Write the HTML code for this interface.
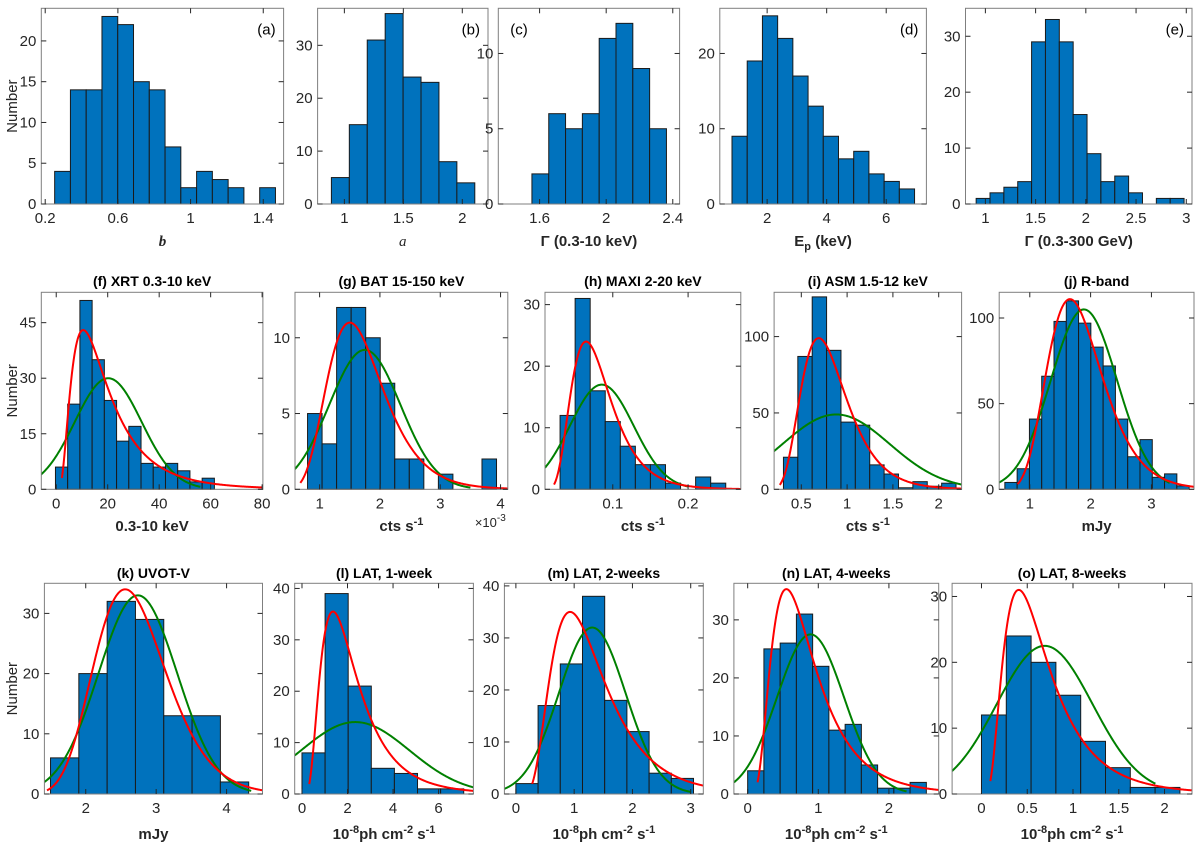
<!DOCTYPE html>
<html><head><meta charset="utf-8"><style>
body{margin:0;background:#fff}
svg{display:block;font-family:"Liberation Sans",sans-serif}
</style></head><body>
<svg id="fig" width="1200" height="847" viewBox="0 0 1200 847" xmlns="http://www.w3.org/2000/svg"></svg>
<script>
// ---- data (bin starts, bin widths, counts, fit parameters) ----
const countsA=[4,14,14,23,22,15,14,7,2,4,3,2,0,2]; const binA=[0.252,0.0868];
const countsB=[5,15,31,36,24,23,8,4]; const binB=[0.89,0.152];
const countsC=[2,6,5,6,11,12,9,5]; const binC=[1.554,0.101];
const countsD=[9,19,25,22,17,13,9,6,7,4,3,2]; const binD=[0.82,0.511];
const countsE=[1,2,3,4,29,33,29,16,9,4,5,2,0,1,1]; const binE=[0.908,0.138];
const countsF=[6,23,51,35,24,13,17,7,6,7,5,2,3]; const binF=[-0.3,4.75];
const countsG=[5,3,12,12,10,7,2,2,0,1,0,0,2]; const binG=[0.80,0.241];
const countsH=[12,31,16,11,7,4,4,1,0,2,1]; const binH=[0.030,0.020];
const countsI=[21,87,126,91,44,42,16,10,1,5,2,4]; const binI=[0.305,0.157];
const countsJ=[4,12,41,66,98,110,97,83,72,41,19,29,7,9,2]; const binJ=[0.59,0.202];
const countsK=[6,20,32,29,13,13,2]; const binK=[1.50,0.402];
const countsL=[8,39,21,5,4,1,1]; const binL=[0,1.015];
const countsM=[2,17,25,38,18,12,4,3]; const binM=[0,0.381];
const countsN=[4,25,26,31,22,11,12,5,1,1,2]; const binN=[0,0.23];
const countsO=[12,24,20,15,8,4,1,1]; const binO=[0,0.271];
// lognormal fits: [peak, mode, sigma, xstart, xend]
const redF=[43,10.5,0.68,2.2,80]; const greenF=[30,20.2,13,-6,56];
const redG=[11,1.5,0.31,0.68,4.12]; const greenG=[9.2,1.75,0.59,0.59,3.5];
const redH=[24,0.0645,0.41,0.022,0.27]; const greenH=[17,0.0854,0.0424,0.01,0.2];
const redI=[99,0.69,0.36,0.265,2.25]; const greenI=[49,0.88,0.584,0.2,2.25];
const redJ=[111,1.66,0.272,0.8,3.7]; const greenJ=[105,1.89,0.545,0.497,3.3];
const redK=[34,2.56,0.20,1.45,4.51]; const greenK=[33,2.74,0.56,1.413,4.35];
const redL=[35.5,1.36,0.60,0.32,7.53]; const greenL=[14,2.34,2.38,-0.32,7.53];
const redM=[35,0.93,0.50,0.28,3.216]; const greenM=[32,1.31,0.572,-0.197,3.0];
const redN=[35.3,0.548,0.57,0.14,2.705]; const greenN=[27.5,0.89,0.474,-0.195,2.25];
const redO=[31,0.407,0.61,0.097,2.3]; const greenO=[22.5,0.69,0.524,-0.321,1.9];

const NS="http://www.w3.org/2000/svg";
const svg=document.getElementById('fig');
function mk(tag,attrs,parent){const e=document.createElementNS(NS,tag);for(const k in attrs)e.setAttribute(k,attrs[k]);(parent||svg).appendChild(e);return e;}

const R1=[8.3,204],R2=[292.3,489.3],R3=[583.3,794];
const panels=[
{id:'a',box:[41.3,283.6],row:R1,xr:[0.1785,1.512],yr:24,xt:[0.2,0.6,1,1.4],yt:[0,5,10,15,20],counts:countsA,bin:binA,tag:'(a)',tagR:true,xl:'<tspan font-weight="bold" font-style="italic" font-family="Liberation Serif">b</tspan>',ylab:true},
{id:'b',box:[317.6,488],row:R1,xr:[0.773,2.218],yr:37,xt:[1,1.5,2],yt:[0,10,20,30],counts:countsB,bin:binB,tag:'(b)',tagR:true,xl:'<tspan font-style="italic" font-family="Liberation Serif">a</tspan>'},
{id:'c',box:[498.3,679.6],row:R1,xr:[1.352,2.441],yr:13,xt:[1.6,2,2.4],yt:[0,5,10],counts:countsC,bin:binC,tag:'(c)',tagR:false,xl:'<tspan font-weight="bold">Γ (0.3-10 keV)</tspan>'},
{id:'d',box:[719.8,926.4],row:R1,xr:[0.41,7.35],yr:26,xt:[2,4,6],yt:[0,10,20],counts:countsD,bin:binD,tag:'(d)',tagR:true,xl:'<tspan font-weight="bold">E</tspan><tspan font-weight="bold" font-size="11" dy="4">p</tspan><tspan font-weight="bold" dy="-4"> (keV)</tspan>'},
{id:'e',box:[965.5,1192],row:R1,xr:[0.802,3.057],yr:35,xt:[1,1.5,2,2.5,3],yt:[0,10,20,30],counts:countsE,bin:binE,tag:'(e)',tagR:true,xl:'<tspan font-weight="bold">Γ (0.3-300 GeV)</tspan>'},
{id:'f',box:[41.3,262.9],row:R2,xr:[-5.8,80.3],yr:53.2,xt:[0,20,40,60,80],yt:[0,15,30,45],counts:countsF,bin:binF,red:redF,green:greenF,title:'(f) XRT 0.3-10 keV',xl:'0.3-10 keV',ylab:true},
{id:'g',box:[295,507.8],row:R2,xr:[0.592,4.12],yr:13,xt:[1,2,3,4],yt:[0,5,10],counts:countsG,bin:binG,red:redG,green:greenG,title:'(g) BAT 15-150 keV',xl:'cts s<tspan font-size="11" dy="-6">-1</tspan>',exp:true},
{id:'h',box:[545,740.8],row:R2,xr:[0.010,0.270],yr:32,xt:[0.1,0.2],yt:[0,10,20,30],counts:countsH,bin:binH,red:redH,green:greenH,title:'(h) MAXI 2-20 keV',xl:'cts s<tspan font-size="11" dy="-6">-1</tspan>'},
{id:'i',box:[774.1,961.6],row:R2,xr:[0.203,2.25],yr:129,xt:[0.5,1,1.5,2],yt:[0,50,100],counts:countsI,bin:binI,red:redI,green:greenI,title:'(i) ASM 1.5-12 keV',xl:'cts s<tspan font-size="11" dy="-6">-1</tspan>'},
{id:'j',box:[999.2,1194],row:R2,xr:[0.497,3.70],yr:115,xt:[1,2,3],yt:[0,50,100],counts:countsJ,bin:binJ,red:redJ,green:greenJ,title:'(j) R-band',xl:'mJy'},
{id:'k',box:[44.4,262.5],row:R3,xr:[1.413,4.51],yr:35,xt:[2,3,4],yt:[0,10,20,30],counts:countsK,bin:binK,red:redK,green:greenK,title:'(k) UVOT-V',xl:'mJy',ylab:true},
{id:'l',box:[294.7,473.4],row:R3,xr:[-0.32,7.53],yr:41,xt:[0,2,4,6],yt:[0,10,20,30,40],counts:countsL,bin:binL,red:redL,green:greenL,title:'(l) LAT, 1-week',xl:'lat'},
{id:'m',box:[504.4,703.3],row:R3,xr:[-0.197,3.216],yr:40.5,xt:[0,1,2,3],yt:[0,10,20,30,40],counts:countsM,bin:binM,red:redM,green:greenM,title:'(m) LAT, 2-weeks',xl:'lat'},
{id:'n',box:[733.9,938.7],row:R3,xr:[-0.195,2.705],yr:36.3,xt:[0,1,2],yt:[0,10,20,30],counts:countsN,bin:binN,red:redN,green:greenN,title:'(n) LAT, 4-weeks',xl:'lat'},
{id:'o',box:[952.1,1192],row:R3,xr:[-0.321,2.30],yr:32,xt:[0,0.5,1,1.5,2],yt:[0,10,20,30],counts:countsO,bin:binO,red:redO,green:greenO,title:'(o) LAT, 8-weeks',xl:'lat'}
];
const latLabel='10<tspan font-size="11" dy="-6">-8</tspan><tspan dy="6">ph cm</tspan><tspan font-size="11" dy="-6">-2</tspan><tspan dy="6"> s</tspan><tspan font-size="11" dy="-6">-1</tspan>';

panels.forEach(p=>{
  const [L,Rr]=p.box,[T,B]=p.row;
  const sx=v=>L+(v-p.xr[0])/(p.xr[1]-p.xr[0])*(Rr-L);
  const sy=v=>B-v/p.yr*(B-T);
  const g=mk('g',{});
  
  
  const clipId='clip'+p.id;
  const cp=mk('clipPath',{id:clipId},g);mk('rect',{x:L,y:T,width:Rr-L,height:B-T},cp);
  // bars
  p.counts.forEach((c,i)=>{
    if(c<=0)return;
    const x0=p.bin[0]+i*p.bin[1],x1=x0+p.bin[1];
    const r=mk('rect',{x:sx(x0),y:sy(c),width:sx(x1)-sx(x0),height:B-sy(c),fill:'#0072BD',stroke:'#1a1a1a','stroke-width':1},g);
    
    
  });
  // curves
  function curve(par,isRed){
    const pts=[];const n=240;
    for(let k=0;k<=n;k++){const x=par[3]+(par[4]-par[3])*k/n;let y;
      if(isRed){if(x<=0)continue;const l=Math.log(x/par[1]);y=par[0]*Math.exp(-l*l/(2*par[2]*par[2]));}
      else{const d=x-par[1];y=par[0]*Math.exp(-d*d/(2*par[2]*par[2]));}
      pts.push(sx(x).toFixed(2)+','+sy(y).toFixed(2));}
    const pl=mk('polyline',{points:pts.join(' '),fill:'none',stroke:isRed?'#FF0000':'#008000','stroke-width':2,'clip-path':'url(#'+clipId+')'},g);
    
    
  }
  if(p.green)curve(p.green,false);
  if(p.red)curve(p.red,true);
  // box
  const bx=mk('rect',{x:L,y:T,width:Rr-L,height:B-T,fill:'none',stroke:'#7f7f7f','stroke-width':1},g);
  
  
  // ticks
  p.xt.forEach(v=>{const x=sx(v);
    mk('line',{x1:x,y1:B,x2:x,y2:B-5,stroke:'#262626'},g);mk('line',{x1:x,y1:T,x2:x,y2:T+5,stroke:'#262626'},g);
    const t=mk('text',{x:x,y:B+19,'text-anchor':'middle','font-size':15,fill:'#262626'},g);t.textContent=String(v);
    
    });
  p.yt.forEach(v=>{const y=sy(v);
    mk('line',{x1:L,y1:y,x2:L+5,y2:y,stroke:'#262626'},g);mk('line',{x1:Rr,y1:y,x2:Rr-5,y2:y,stroke:'#262626'},g);
    const t=mk('text',{x:L-5,y:y+5,'text-anchor':'end','font-size':15,fill:'#262626'},g);t.textContent=String(v);
    
    });
  // x label
  const xlY = p.row===R1?246:(p.row===R2?531:839);
  const xl=mk('text',{x:(L+Rr)/2,y:xlY,'text-anchor':'middle','font-size':15,fill:'#262626','font-weight':p.row===R1?'normal':'bold'},g);
  xl.innerHTML = p.xl==='lat'?latLabel:p.xl;
  
  
  if(p.exp){const e=mk('text',{x:Rr-2,y:527,'text-anchor':'end','font-size':13,fill:'#262626'},g);
    e.innerHTML='×10<tspan font-size="10" dy="-6">-3</tspan>';
    
    }
  if(p.title){const t=mk('text',{x:(L+Rr)/2,y:p.row===R2?286:578,'text-anchor':'middle','font-size':14,'font-weight':'bold',fill:'#000'},g);
    t.textContent=p.title;
    
    }
  if(p.tag){const t=mk('text',{x:p.tagR?Rr-8:L+12,y:T+26,'text-anchor':p.tagR?'end':'start','font-size':15,fill:'#000'},g);
    t.textContent=p.tag;
    
    }
  if(p.ylab){const cy=(T+B)/2;const t=mk('text',{x:0,y:0,transform:'translate(17,'+cy+') rotate(-90)','text-anchor':'middle','font-size':15,fill:'#262626'},g);
    t.textContent='Number';
    
    }
});
</script>
</body></html>
